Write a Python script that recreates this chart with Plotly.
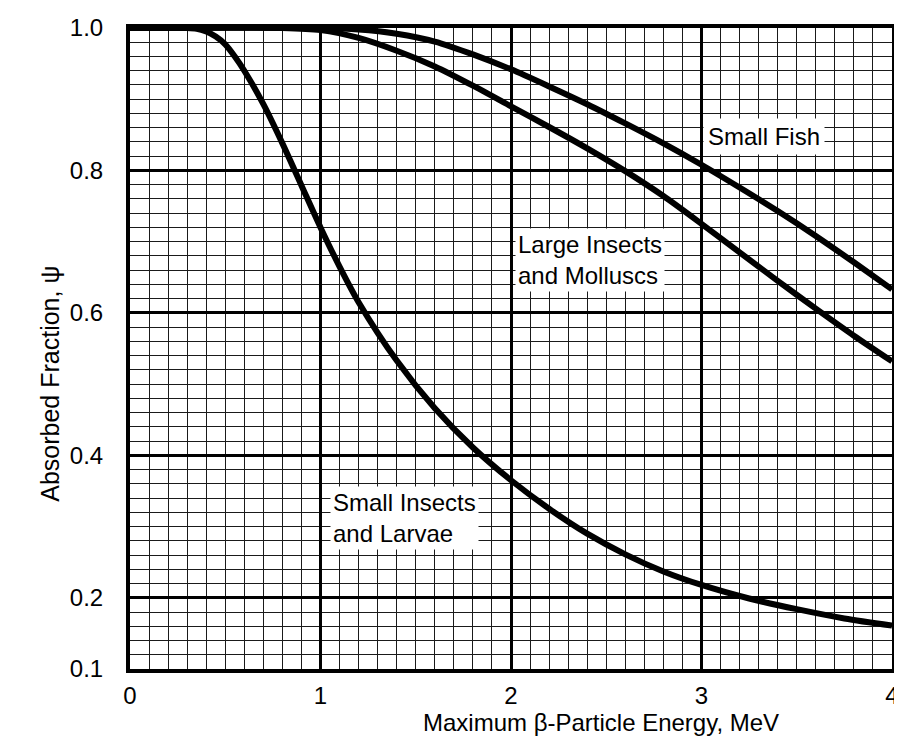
import plotly.graph_objects as go

# ---- data ----
energy_small_insects = [0.0, 0.3, 0.35, 0.4, 0.45, 0.5, 0.55, 0.6, 0.7, 0.8, 0.9, 1.0, 1.1, 1.2, 1.4,
                        1.6, 1.8, 2.0, 2.2, 2.4, 2.6, 2.8, 3.0, 3.25, 3.5, 3.75, 4.0]
frac_small_insects = [1.0, 1.0, 0.999, 0.995, 0.988, 0.977, 0.96, 0.94, 0.893, 0.838, 0.779, 0.72,
                      0.665, 0.615, 0.533, 0.466, 0.411, 0.365, 0.325, 0.29, 0.261, 0.237, 0.218,
                      0.199, 0.184, 0.171, 0.161]

energy_large_insects = [0.0, 0.8, 1.0, 1.2, 1.4, 1.6, 1.8, 2.0, 2.2, 2.4, 2.6, 2.8, 3.0, 3.2, 3.4,
                        3.6, 3.8, 4.0]
frac_large_insects = [1.0, 1.0, 0.997, 0.986, 0.968, 0.946, 0.919, 0.89, 0.861, 0.831, 0.799, 0.764,
                      0.725, 0.685, 0.645, 0.606, 0.568, 0.532]

energy_small_fish = [0.0, 1.0, 1.2, 1.4, 1.6, 1.8, 2.0, 2.2, 2.4, 2.6, 2.8, 3.0, 3.2, 3.4, 3.6, 3.8, 4.0]
frac_small_fish = [1.0, 1.0, 0.998, 0.992, 0.981, 0.963, 0.942, 0.918, 0.893, 0.866, 0.838, 0.808,
                   0.776, 0.743, 0.708, 0.671, 0.633]

x_tick_vals = [0, 1, 2, 3, 4]
x_tick_text = ["0", "1", "2", "3", "4"]
y_tick_vals = [0.1, 0.2, 0.4, 0.6, 0.8, 1.0]
y_tick_text = ["0.1", "0.2", "0.4", "0.6", "0.8", "1.0"]

x_title = "Maximum β-Particle Energy, MeV"
y_title = "Absorbed Fraction, ψ"

curve_labels = ["Small Fish", "Large Insects<br>and Molluscs", "Small Insects<br>and Larvae"]
label_x = [3.33, 2.02, 1.05]
label_y = [0.848, 0.674, 0.312]

FONT = "Liberation Sans, Arial, Helvetica, sans-serif"

fig = go.Figure()
for xs, ys in [(energy_small_insects, frac_small_insects),
               (energy_large_insects, frac_large_insects),
               (energy_small_fish, frac_small_fish)]:
    fig.add_trace(go.Scatter(x=xs, y=ys, mode="lines",
                             line=dict(color="black", width=6, shape="spline", smoothing=0.8),
                             showlegend=False, hoverinfo="x+y"))

# labels (white boxes over grid)
fig.add_annotation(x=label_x[0], y=label_y[0], text=curve_labels[0], showarrow=False,
                   xanchor="center", yanchor="middle", bgcolor="white", borderpad=4,
                   font=dict(size=24, color="black", family=FONT))
fig.add_annotation(x=label_x[1], y=label_y[1], text=curve_labels[1], showarrow=False,
                   xanchor="left", yanchor="middle", align="left", bgcolor="white", borderpad=2,
                   font=dict(size=24, color="black", family=FONT))
fig.add_annotation(x=label_x[2], y=label_y[2], text=curve_labels[2], showarrow=False,
                   xanchor="left", yanchor="middle", align="left", bgcolor="white", borderpad=2,
                   font=dict(size=24, color="black", family=FONT))

# axis titles (placed as in the reference, off-centre)
fig.add_annotation(xref="paper", yref="paper", x=0.382, y=-0.084, text=x_title,
                   showarrow=False, xanchor="left", yanchor="middle",
                   font=dict(size=24, color="black", family=FONT))
fig.add_annotation(xref="paper", yref="paper", x=-0.105, y=0.445, text=y_title,
                   showarrow=False, xanchor="center", yanchor="middle", textangle=-90,
                   font=dict(size=25, color="black", family=FONT))

fig.update_xaxes(range=[0, 4], tickvals=x_tick_vals, ticktext=x_tick_text,
                 showgrid=True, gridcolor="black", gridwidth=3,
                 minor=dict(dtick=0.1, tick0=0, showgrid=True, gridcolor="#1a1a1a", gridwidth=1.3),
                 showline=True, mirror=True, linecolor="black", linewidth=4,
                 ticks="", ticklabelstandoff=2, zeroline=False,
                 tickfont=dict(size=24, color="black", family=FONT))
fig.update_yaxes(range=[0.1, 1.0], tickvals=y_tick_vals, ticktext=y_tick_text,
                 showgrid=True, gridcolor="black", gridwidth=3,
                 minor=dict(dtick=0.02, tick0=0, showgrid=True, gridcolor="#1a1a1a", gridwidth=1.3),
                 showline=True, mirror=True, linecolor="black", linewidth=4,
                 ticks="", ticklabelstandoff=18, zeroline=False,
                 tickfont=dict(size=24, color="black", family=FONT))

fig.update_layout(width=902, height=741, autosize=False,
                  margin=dict(l=122, r=18, t=20, b=80, autoexpand=False),
                  paper_bgcolor="white", plot_bgcolor="white", showlegend=False)

fig.write_html("out.html")
